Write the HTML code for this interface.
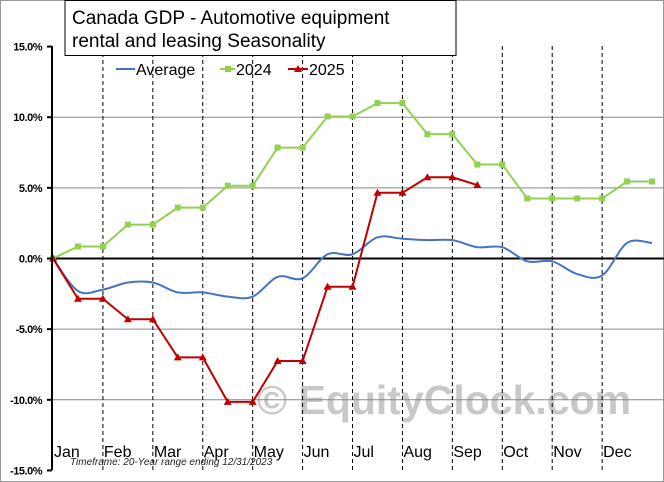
<!DOCTYPE html>
<html><head><meta charset="utf-8"><style>
html,body{margin:0;padding:0;background:#fff;}
svg{display:block;font-family:"Liberation Sans",sans-serif;}
</style></head><body>
<svg id="chart" width="664" height="482" viewBox="0 0 664 482">
<rect x="0.5" y="0.5" width="663" height="481" fill="#fff" stroke="#999"/>
<text x="444" y="414" font-size="41" font-weight="bold" fill="#c8c8c8" text-anchor="middle">© EquityClock.com</text>
<g id="grid"></g>
<g id="series"></g>
<line x1="52" y1="46" x2="52" y2="470" stroke="#000" stroke-width="2"/>
<g id="yticks"></g>
<g id="months"></g>
<text x="70" y="465" font-size="10" font-style="italic" fill="#222">Timeframe: 20-Year range ending 12/31/2023</text>
<rect x="65" y="0.5" width="391" height="55" fill="#fff" stroke="#000"/>
<text x="72" y="24" font-size="19" fill="#000"><tspan x="72" y="24">Canada  GDP - Automotive  equipment</tspan><tspan x="72" y="47">rental and leasing Seasonality</tspan></text>
<g>
<g><line x1="116" y1="69" x2="135" y2="69" stroke="#4472c4" stroke-width="2"/><text x="136" y="75" font-size="16">Average</text></g>
<g><line x1="220" y1="69" x2="235" y2="69" stroke="#92d050" stroke-width="2"/><rect x="225" y="66" width="6" height="6" fill="#92d050"/><text x="236" y="75" font-size="16">2024</text></g>
<g><line x1="288" y1="69" x2="308" y2="69" stroke="#c00000" stroke-width="2"/><path d="M298,65 L302,72 L294,72Z" fill="#c00000"/><text x="309" y="75" font-size="16">2025</text></g>
</g>
</svg>
<script>
const months=["Jan","Feb","Mar","Apr","May","Jun","Jul","Aug","Sep","Oct","Nov","Dec"];
const yTicks=[15,10,5,0,-5,-10,-15];
const avg=[0,-2.3,-2.2,-1.7,-1.7,-2.4,-2.4,-2.7,-2.7,-1.3,-1.4,0.3,0.3,1.5,1.4,1.3,1.3,0.8,0.8,-0.2,-0.2,-1.1,-1.2,1.1,1.1];
const y2024=[0,0.85,0.85,2.4,2.4,3.6,3.6,5.15,5.15,7.85,7.85,10.05,10.05,11,11,8.8,8.8,6.65,6.65,4.25,4.25,4.25,4.25,5.45,5.45];
const y2025=[0,-2.85,-2.85,-4.3,-4.3,-7,-7,-10.15,-10.15,-7.25,-7.25,-2,-2,4.65,4.65,5.75,5.75,5.2];
const NS="http://www.w3.org/2000/svg";
const X0=53,DX=24.96,Y0=258.5,PY=14.13;
const xs=i=>X0+i*DX, ys=v=>Y0-v*PY;
function mk(t,a,p){const e=document.createElementNS(NS,t);for(const k in a)e.setAttribute(k,a[k]);p.appendChild(e);return e;}
const grid=document.getElementById('grid'),yt=document.getElementById('yticks'),mg=document.getElementById('months'),sg=document.getElementById('series');
yTicks.forEach(v=>{
 if(v===0){const l=mk('line',{x1:52,y1:ys(v),x2:664,y2:ys(v),stroke:'#000','stroke-width':2},grid);
  
  }
 else if(Math.abs(v)!==15){const l=mk('line',{x1:52,y1:ys(v),x2:664,y2:ys(v),stroke:'#888','stroke-width':1},grid);
  
  }
 mk('line',{x1:47,y1:ys(v),x2:52,y2:ys(v),stroke:'#000','stroke-width':2},yt);
 const t=mk('text',{x:42,y:ys(v)+4,'font-size':11,'font-weight':'bold','text-anchor':'end','letter-spacing':'-0.5'},yt);
 t.textContent=v.toFixed(1)+'%';
 
 
});
months.forEach((m,i)=>{
 if(i>0){const l=mk('line',{x1:xs(2*i),y1:46,x2:xs(2*i),y2:470,stroke:'#000','stroke-width':1,'stroke-dasharray':'4,3'},grid);
  
  }
 const t=mk('text',{x:xs(2*i)+1,y:457,'font-size':16},mg);
 t.textContent=m;
 
 
});
function line(arr,color,name){
 const p=mk('polyline',{points:arr.map((v,i)=>xs(i)+','+ys(v)).join(' '),fill:'none',stroke:color,'stroke-width':2,'stroke-linejoin':'round'},sg);
 
 
}
function smooth(arr,color,name){
 const P=arr.map((v,i)=>[xs(i),ys(v)]);
 let d='M'+P[0][0]+','+P[0][1];
 for(let i=0;i<P.length-1;i++){
  const p0=P[Math.max(0,i-1)],p1=P[i],p2=P[i+1],p3=P[Math.min(P.length-1,i+2)];
  const c1=[p1[0]+(p2[0]-p0[0])/6,p1[1]+(p2[1]-p0[1])/6];
  const c2=[p2[0]-(p3[0]-p1[0])/6,p2[1]-(p3[1]-p1[1])/6];
  d+=` C${c1[0]},${c1[1]} ${c2[0]},${c2[1]} ${p2[0]},${p2[1]}`;
 }
 const p=mk('path',{d:d,fill:'none',stroke:color,'stroke-width':2},sg);
 
 
}
smooth(avg,'#4472c4','average-line');
line(y2024,'#92d050','line-2024');
y2024.forEach((v,i)=>{const r=mk('rect',{x:xs(i)-3,y:ys(v)-3,width:6,height:6,fill:'#92d050'},sg);
 
 });
line(y2025,'#c00000','line-2025');
y2025.forEach((v,i)=>{const x=xs(i),y=ys(v);const p=mk('path',{d:`M${x},${y-4} L${x+4},${y+3} L${x-4},${y+3}Z`,fill:'#c00000'},sg);
 
 });
</script>
</body></html>
